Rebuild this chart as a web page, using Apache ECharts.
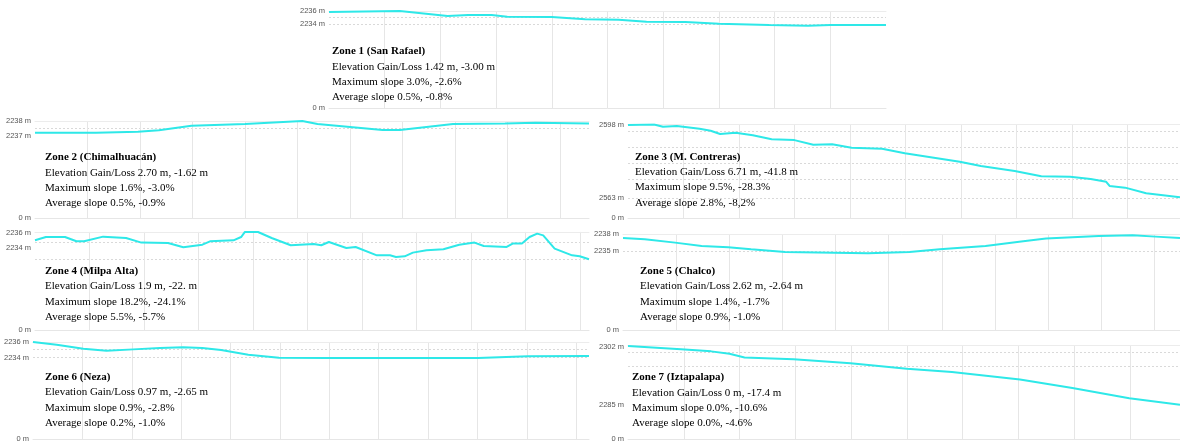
<!DOCTYPE html>
<html><head><meta charset="utf-8">
<script src="https://cdn.jsdelivr.net/npm/echarts@6/dist/echarts.min.js"></script>
<style>html,body{margin:0;padding:0;background:#fff}#c{width:1180px;height:445px}</style>
</head><body><div id="c"></div><script>
// ---- text ----
const zoneNames = ['Zone 1 (San Rafael)', 'Zone 2 (Chimalhuacán)', 'Zone 3 (M. Contreras)', 'Zone 4 (Milpa Alta)', 'Zone 5 (Chalco)', 'Zone 6 (Neza)', 'Zone 7 (Iztapalapa)'];
const gainLoss = ['Elevation Gain/Loss 1.42 m, -3.00 m', 'Elevation Gain/Loss 2.70 m, -1.62 m', 'Elevation Gain/Loss 6.71 m, -41.8 m', 'Elevation Gain/Loss 1.9 m, -22. m', 'Elevation Gain/Loss 2.62 m, -2.64 m', 'Elevation Gain/Loss 0.97 m, -2.65 m', 'Elevation Gain/Loss 0 m, -17.4 m'];
const maxSlope = ['Maximum slope 3.0%, -2.6%', 'Maximum slope 1.6%, -3.0%', 'Maximum slope 9.5%, -28.3%', 'Maximum slope 18.2%, -24.1%', 'Maximum slope 1.4%, -1.7%', 'Maximum slope 0.9%, -2.8%', 'Maximum slope 0.0%, -10.6%'];
const avgSlope = ['Average slope 0.5%, -0.8%', 'Average slope 0.5%, -0.9%', 'Average slope 2.8%, -8,2%', 'Average slope 5.5%, -5.7%', 'Average slope 0.9%, -1.0%', 'Average slope 0.2%, -1.0%', 'Average slope 0.0%, -4.6%'];

// ---- route lengths (x-axis units) ----
const routeLengths = [10, 10.55, 9.95, 10.16, 10.48, 11.26, 9.9];

// ---- profiles: distance / elevation (m) ----
const z1Dist = [0, 1.27, 2.13, 2.5, 2.92, 3.2, 4.0, 4.6, 5.2, 5.7, 6.4, 7.0, 7.9, 8.6, 9.0, 10.0];
const z1Elev = [2235.85, 2236.0, 2235.25, 2235.4, 2235.4, 2235.15, 2235.1, 2234.75, 2234.7, 2234.4, 2234.35, 2234.1, 2233.9, 2233.8, 2233.9, 2233.9];
const z2Dist = [0, 1.16, 1.96, 2.36, 2.98, 4.0, 5.09, 5.38, 6.62, 6.95, 7.96, 8.95, 9.53, 10.55];
const z2Elev = [2237.22, 2237.22, 2237.29, 2237.38, 2237.69, 2237.8, 2238.0, 2237.8, 2237.4, 2237.4, 2237.8, 2237.84, 2237.89, 2237.84];
const z3Dist = [0, 0.47, 0.63, 0.88, 1.29, 1.49, 1.66, 1.94, 2.25, 2.59, 3.0, 3.34, 3.68, 4.03, 4.58, 4.99, 5.98, 6.36, 6.97, 7.45, 7.97, 8.34, 8.62, 8.68, 8.96, 9.34, 9.95];
const z3Elev = [2598.0, 2598.3, 2597.2, 2597.5, 2596.25, 2595.3, 2593.7, 2594.3, 2593.1, 2591.2, 2590.8, 2588.6, 2588.8, 2587.2, 2586.7, 2584.5, 2580.5, 2578.4, 2576.0, 2573.5, 2573.3, 2572.2, 2570.9, 2568.9, 2568.1, 2565.4, 2563.5];
const z4Dist = [0, 0.2, 0.55, 0.76, 0.9, 1.25, 1.67, 1.95, 2.44, 2.72, 3.07, 3.21, 3.64, 3.78, 3.85, 4.09, 4.34, 4.69, 5.11, 5.25, 5.39, 5.71, 5.88, 6.27, 6.51, 6.62, 6.78, 6.93, 7.18, 7.49, 7.78, 8.06, 8.23, 8.65, 8.76, 8.93, 9.07, 9.21, 9.32, 9.53, 9.85, 9.99, 10.16];
const z4Elev = [2235.0, 2235.43, 2235.43, 2234.87, 2234.87, 2235.48, 2235.3, 2234.7, 2234.65, 2234.1, 2234.43, 2234.87, 2235.0, 2235.43, 2236.09, 2236.09, 2235.3, 2234.35, 2234.52, 2234.35, 2234.78, 2234.0, 2234.13, 2233.04, 2233.04, 2232.83, 2232.91, 2233.39, 2233.7, 2233.83, 2234.43, 2234.7, 2234.26, 2234.13, 2234.57, 2234.57, 2235.43, 2235.87, 2235.65, 2233.91, 2233.04, 2232.91, 2232.52];
const z5Dist = [0, 0.41, 0.98, 1.48, 1.98, 2.41, 3.05, 3.97, 4.61, 5.39, 5.96, 6.82, 7.53, 7.96, 8.95, 9.59, 10.02, 10.48];
const z5Elev = [2237.35, 2237.12, 2236.53, 2235.94, 2235.7, 2235.35, 2234.88, 2234.76, 2234.65, 2234.88, 2235.35, 2235.94, 2236.76, 2237.24, 2237.7, 2237.82, 2237.59, 2237.35];
const z6Dist = [0, 0.48, 1.02, 1.49, 2.03, 2.57, 3.04, 3.43, 3.81, 4.36, 4.98, 5.98, 9.01, 10.02, 11.26];
const z6Elev = [2236.0, 2235.66, 2235.15, 2234.89, 2235.06, 2235.23, 2235.32, 2235.23, 2234.98, 2234.38, 2234.0, 2233.96, 2233.96, 2234.17, 2234.21];
const z7Dist = [0, 0.95, 1.49, 1.82, 2.09, 2.97, 3.99, 5.0, 5.81, 7.03, 7.97, 8.99, 9.9];
const z7Elev = [2302.3, 2301.3, 2300.7, 2300.0, 2298.9, 2298.4, 2297.2, 2295.6, 2294.6, 2292.4, 2289.9, 2286.9, 2285.0];

// ---- y-axis ticks ----
const yTopValues = [2236.0, 2238.0, 2598.4, 2236.1, 2238.0, 2236.0, 2302.4];
const yBaseValues = [2221.37, 2231.51, 2553.45, 2223.24, 2221.06, 2223.6, 2274.8]; // drawn as "0 m"
const yLabelValues = [[2236, 2234], [2238, 2237], [2598, 2563], [2236, 2234], [2238, 2235], [2236, 2234], [2302, 2285]];
const gridLineValues = [[2235, 2234], [2237.5], [2594.8, 2587.35, 2579.7, 2572.1, 2563], [2234.78, 2232.48], [2235], [2235.02, 2234], [2300.5, 2296.3]];

const zoneDist = [z1Dist, z2Dist, z3Dist, z4Dist, z5Dist, z6Dist, z7Dist];
const zoneElev = [z1Elev, z2Elev, z3Elev, z4Elev, z5Elev, z6Elev, z7Elev];

// ---- layout (pixels) ----
const layout = [
  {left: 329, right: 294, top: 11,    bottom: 108.3, tx: 332, ty: 53},
  {left: 35,  right: 591, top: 121,   bottom: 218.3, tx: 45,  ty: 159},
  {left: 628, right: 0,   top: 124.2, bottom: 218.3, tx: 635, ty: 158.3},
  {left: 35,  right: 591, top: 231.9, bottom: 330.3, tx: 45,  ty: 272.7},
  {left: 623, right: 0,   top: 234.3, bottom: 330.3, tx: 640, ty: 272.7},
  {left: 33,  right: 591, top: 342,   bottom: 439.3, tx: 45,  ty: 378.7},
  {left: 628, right: 0,   top: 345.6, bottom: 439.3, tx: 632, ty: 379}
];
const LINE_GAP = 15.3;
const SERIF = '"Liberation Serif", "DejaVu Serif", serif';

const grids = [], xAxes = [], yAxes = [], series = [], graphics = [];
layout.forEach((L, i) => {
  grids.push({left: L.left, right: L.right, top: L.top, height: L.bottom - L.top, containLabel: false});
  xAxes.push({
    type: 'value', gridIndex: i, min: 0, max: routeLengths[i], interval: 1,
    axisLine: {show: true, onZero: false, lineStyle: {color: '#e6e6e6', width: 1}},
    axisTick: {show: false}, axisLabel: {show: false},
    splitLine: {show: true, showMinLine: false, showMaxLine: false, lineStyle: {color: '#e6e6e6', width: 1}}
  });
  xAxes.push({
    type: 'value', gridIndex: i, position: 'top', min: 0, max: routeLengths[i], interval: 1,
    axisLine: {show: true, onZero: false, lineStyle: {color: '#ececec', width: 1}},
    axisTick: {show: false}, axisLabel: {show: false}, splitLine: {show: false}
  });
  const base = yBaseValues[i];
  yAxes.push({
    type: 'value', gridIndex: i, min: base, max: yTopValues[i],
    axisLine: {show: false},
    axisTick: {show: false, customValues: gridLineValues[i]},
    axisLabel: {
      show: true, customValues: [base].concat(yLabelValues[i]), margin: 4,
      color: '#555', fontSize: 7.5, fontFamily: '"Liberation Sans", Arial, sans-serif',
      formatter: v => (Math.abs(v - base) < 1e-6 ? '0 m' : v + ' m')
    },
    splitLine: {show: true, lineStyle: {color: '#d9d9d9', width: 1, type: [2, 2]}}
  });
  series.push({
    type: 'line', xAxisIndex: i * 2, yAxisIndex: i, showSymbol: false, silent: true,
    data: zoneDist[i].map((d, k) => [d, zoneElev[i][k]]),
    lineStyle: {color: '#2ee8e8', width: 2}, itemStyle: {color: '#2ee8e8'}
  });
  const lines = [zoneNames[i], gainLoss[i], maxSlope[i], avgSlope[i]];
  lines.forEach((t, k) => {
    graphics.push({
      type: 'text', left: L.tx, top: L.ty + k * LINE_GAP - 7, z: 10,
      style: {text: t, fill: '#000', font: (k === 0 ? 'bold ' : '') + '11px ' + SERIF}
    });
  });
});

const chart = echarts.init(document.getElementById('c'), null, {renderer: 'canvas'});
chart.setOption({
  animation: false,
  backgroundColor: '#ffffff',
  grid: grids, xAxis: xAxes, yAxis: yAxes, series: series, graphic: graphics
});
</script></body></html>
